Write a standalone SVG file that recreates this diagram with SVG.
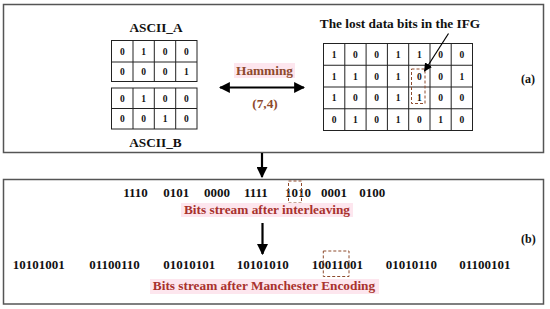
<svg xmlns="http://www.w3.org/2000/svg" width="550" height="309" viewBox="0 0 550 309">
<defs>
<style>
.frame{fill:#fff;stroke:#555;stroke-width:1.5}
.cell{fill:none;stroke:#222;stroke-width:1}
.t{font-family:"Liberation Serif","Times New Roman",serif;font-weight:bold;fill:#111}
.d{font-size:9.5px;text-anchor:middle}
.lab{font-size:13.3px;text-anchor:middle}
.bits{font-size:13px}
.red{fill:#a8322d}
.brn{fill:#8e4a2c}
.hl{fill:#fde6ee}
.dash{fill:none;stroke:#8e4a2c;stroke-width:1;stroke-dasharray:3,2}
.arr{stroke:#000;stroke-width:2.2;fill:none}
</style>
<marker id="ah" viewBox="0 0 10 10" refX="9" refY="5" markerWidth="5" markerHeight="5" orient="auto-start-reverse" markerUnits="strokeWidth">
<path d="M0,0 L10,5 L0,10 z" fill="#000"/>
</marker>
<marker id="ah2" viewBox="0 0 10 10" refX="9" refY="5" markerWidth="7" markerHeight="7" orient="auto" markerUnits="strokeWidth">
<path d="M0,0 L10,5 L0,10 z" fill="#000"/>
</marker>
</defs>
<rect width="550" height="309" fill="#fff"/>

<g id="panel-a">
<rect class="frame" x="3.5" y="4.5" width="540" height="148"/>
<text class="t" x="521" y="83" font-size="12">(a)</text>
</g>

<g id="panel-b">
<rect class="frame" x="3.5" y="179.5" width="540" height="124.5"/>
<text class="t" x="521" y="243" font-size="12">(b)</text>
</g>

<g id="ascii-a">
<text class="t lab" x="156" y="32">ASCII_A</text>
<rect class="cell" x="111.5" y="40.5" width="85.5" height="41"/>
<path class="cell" d="M133 40.5V81.5M154.3 40.5V81.5M175.7 40.5V81.5M111.5 62H197"/>
<g class="t d">
<text x="122.3" y="54.5">0</text><text x="143.7" y="54.5">1</text><text x="165" y="54.5">0</text><text x="186.3" y="54.5">0</text>
<text x="122.3" y="75">0</text><text x="143.7" y="75">0</text><text x="165" y="75">0</text><text x="186.3" y="75">1</text>
</g>
</g>

<g id="ascii-b">
<rect class="cell" x="111.5" y="88" width="85.5" height="41"/>
<path class="cell" d="M133 88V129M154.3 88V129M175.7 88V129M111.5 108.5H197"/>
<g class="t d">
<text x="122.3" y="101.5">0</text><text x="143.7" y="101.5">1</text><text x="165" y="101.5">0</text><text x="186.3" y="101.5">0</text>
<text x="122.3" y="122">0</text><text x="143.7" y="122">0</text><text x="165" y="122">1</text><text x="186.3" y="122">0</text>
</g>
<text class="t lab" x="155.5" y="147">ASCII_B</text>
</g>

<g id="hamming">
<rect class="hl" x="234" y="63" width="61" height="15"/>
<text class="t lab brn" x="264.5" y="75">Hamming</text>
<text class="t lab brn" x="265" y="108">(7,4)</text>
</g>

<g id="ifg-grid">
<text class="t lab" x="400" y="28">The lost data bits in the IFG</text>
<rect class="cell" x="323.5" y="43.5" width="149" height="87"/>
<path class="cell" d="M344.8 43.5V130.5M366.1 43.5V130.5M387.4 43.5V130.5M408.7 43.5V130.5M430 43.5V130.5M451.2 43.5V130.5M323.5 65.25H472.5M323.5 87H472.5M323.5 108.75H472.5"/>
<g class="t d">
<text x="334.1" y="58">1</text><text x="355.4" y="58">0</text><text x="376.7" y="58">0</text><text x="398" y="58">1</text><text x="419.3" y="58">1</text><text x="440.6" y="58">0</text><text x="461.9" y="58">0</text>
<text x="334.1" y="79.5">1</text><text x="355.4" y="79.5">1</text><text x="376.7" y="79.5">0</text><text x="398" y="79.5">1</text><text x="419.3" y="79.5">0</text><text x="440.6" y="79.5">0</text><text x="461.9" y="79.5">1</text>
<text x="334.1" y="101">1</text><text x="355.4" y="101">0</text><text x="376.7" y="101">0</text><text x="398" y="101">1</text><text x="419.3" y="101">1</text><text x="440.6" y="101">0</text><text x="461.9" y="101">0</text>
<text x="334.1" y="123">0</text><text x="355.4" y="123">1</text><text x="376.7" y="123">0</text><text x="398" y="123">1</text><text x="419.3" y="123">0</text><text x="440.6" y="123">1</text><text x="461.9" y="123">0</text>
</g>
<rect class="dash" x="411.5" y="69" width="13.5" height="34.5"/>
</g>

<g id="interleave">
<g class="t bits">
<text x="123.3" y="197">1110</text>
<text x="163.3" y="197">0101</text>
<text x="204" y="197">0000</text>
<text x="244" y="197">1111</text>
<text x="285" y="197">1010</text>
<text x="321" y="197">0001</text>
<text x="359.3" y="197">0100</text>
</g>
<rect class="dash" x="288.5" y="181" width="13" height="22"/>
<rect class="hl" x="181" y="203" width="172" height="14"/>
<text class="t lab red" x="267" y="213.5">Bits stream after interleaving</text>
</g>

<g id="manchester">
<g class="t bits">
<text x="12.7" y="268.5">10101001</text>
<text x="89.3" y="268.5">01100110</text>
<text x="163.3" y="268.5">01010101</text>
<text x="236.7" y="268.5">10101010</text>
<text x="311.7" y="268.5">10011001</text>
<text x="385.7" y="268.5">01010110</text>
<text x="459.3" y="268.5">01100101</text>
</g>
<rect class="dash" x="323.3" y="251" width="25.7" height="25.5"/>
<rect class="hl" x="150" y="279" width="229" height="15"/>
<text class="t lab red" x="264" y="290">Bits stream after Manchester Encoding</text>
</g>

<g id="connectors">
<line class="arr" x1="220" y1="87.5" x2="304" y2="87.5" marker-start="url(#ah)" marker-end="url(#ah)"/>
<line class="arr" x1="262" y1="153" x2="262" y2="177" marker-end="url(#ah)"/>
<line class="arr" x1="262.5" y1="223" x2="262.5" y2="254" marker-end="url(#ah)"/>
<line x1="448.5" y1="33.5" x2="424.5" y2="71" stroke="#000" stroke-width="1.2" marker-end="url(#ah2)"/>
</g>
</svg>
